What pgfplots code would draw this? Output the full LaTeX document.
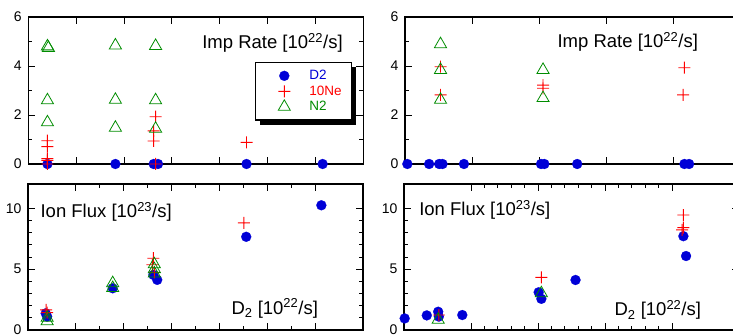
\documentclass[border=0pt]{standalone}
\usepackage{pgfplots}
\pgfplotsset{compat=1.18}
\usepackage{fontspec}
\setmainfont{Liberation Sans}
\usetikzlibrary{shadows}
\definecolor{dblue}{RGB}{0,0,215}
\definecolor{dred}{RGB}{255,0,0}
\definecolor{dgreen}{RGB}{0,140,0}
\pgfdeclareplotmark{fplus}{%
  \pgfpathrectangle{\pgfpoint{-\pgfplotmarksize}{-0.45pt}}{\pgfpoint{2\pgfplotmarksize}{0.9pt}}%
  \pgfpathrectangle{\pgfpoint{-0.45pt}{-\pgfplotmarksize}}{\pgfpoint{0.9pt}{2\pgfplotmarksize}}%
  \pgfusepathqfill}
\tikzset{lab/.style={inner sep=0pt, font=\fontsize{18.5}{20}\selectfont}}
\pgfplotsset{
  panel/.style={scale only axis, width=335pt, clip=false,
    axis line style={line width=1.3pt},
    tick style={black, line width=0.9pt},
    major tick length=7pt, minor tick length=4pt,
    xticklabel=\empty,
    /pgf/number format/assume math mode=true,
    yticklabel style={font=\fontsize{14}{16}\selectfont, xshift=-3pt},
  },
  legimg/.style={legend image code/.code={%
     \pgfpathrectangle{\pgfpoint{0pt}{-7.75pt}}{\pgfpoint{48pt}{15.5pt}}\pgfusepath{}%
     \draw[##1, only marks, mark repeat=2, mark phase=2] plot coordinates {(0pt,0pt) (25pt,0pt) (50pt,0pt)};}},
  d2/.style={only marks, mark=*, mark size=5pt, color=dblue,
    mark options={fill=dblue, draw=dblue, line width=0.2pt}, legimg},
  ne/.style={only marks, mark=fplus, mark size=6pt, color=dred,
    mark options={fill=dred, draw=none}, legimg},
  n2/.style={only marks, mark=triangle, mark size=7pt, color=dgreen,
    mark options={draw=dgreen, line width=0.8pt}, legimg},
}
\begin{document}
\begin{tikzpicture}
\useasboundingbox (0,0) rectangle (733pt,336pt);
\clip (0,0) rectangle (733pt,336pt);
% top-left
\begin{axis}[panel, height=147pt, at={(28.3pt,172pt)}, anchor=south west,
  xmin=0, xmax=7, xtick={1,...,6},
  ymin=0, ymax=6, ytick={0,2,4,6}, minor y tick num=1,
  legend style={at={(0.966,0.694)}, anchor=north east, draw=black, line width=1.2pt,
    fill=white, drop shadow={shadow xshift=4.5pt, shadow yshift=-4.5pt, fill=black, opacity=1},
    font=\fontsize{13.5}{15}\selectfont, inner xsep=4pt, inner ysep=5.5pt, row sep=0pt},
  legend cell align=left,
]
\addplot[d2] coordinates {(0.40,0) (1.82,0) (2.62,0) (2.71,0) (4.56,0) (6.15,0)};
\addlegendentry{\makebox[36pt][l]{\textcolor{dblue}{D2}}}
\addplot[ne] coordinates {(0.40,0.95) (0.40,0.71) (0.40,0.22) (0.40,0.15) (0.40,0) (2.66,1.93) (2.62,1.35) (2.62,0.94) (2.66,0) (4.56,0.88)};
\addlegendentry{\makebox[36pt][l]{\textcolor{dred}{10Ne}}}
\addplot[n2] coordinates {(0.40,4.80) (0.42,4.74) (0.40,2.60) (0.40,1.70) (1.82,4.84) (1.82,2.62) (1.82,1.48) (2.66,4.82) (2.66,2.60) (2.66,1.44)};
\addlegendentry{\makebox[36pt][l]{\textcolor{dgreen}{N2}}}
\node[lab, anchor=base east] at (rel axis cs:0.939,0.787) {Imp Rate [10\textsuperscript{22}/s]};
\end{axis}
% bottom-left
\begin{axis}[panel, height=146pt, at={(28pt,6pt)}, anchor=south west,
  xmin=0, xmax=7, xtick={1,...,6}, minor x tick num=1,
  ymin=0, ymax=12, ytick={0,5,10}, minor y tick num=4,
]
\addplot[d2] coordinates {(0.37,1.37) (0.40,1.10) (1.77,3.43) (2.62,4.53) (2.70,4.12) (4.56,7.66) (6.13,10.25)};
\addplot[ne] coordinates {(0.38,1.65) (0.40,1.43) (2.62,5.9) (2.60,5.36) (2.64,4.73) (4.51,8.8)};
\addplot[n2] coordinates {(0.40,1.0) (0.40,0.72) (1.77,3.85) (1.77,3.45) (2.64,5.4) (2.64,5.0) (2.64,4.65)};
\node[lab, anchor=base west] at (rel axis cs:0.037,0.769) {Ion Flux [10\textsuperscript{23}/s]};
\node[lab, anchor=base east] at (rel axis cs:0.866,0.108) {D\textsubscript{2} [10\textsuperscript{22}/s]};
\end{axis}
% top-right
\begin{axis}[panel, height=147pt, at={(405pt,172pt)}, anchor=south west,
  xmin=0, xmax=5, xtick={1,...,4},
  ymin=0, ymax=6, ytick={0,2,4,6}, minor y tick num=1,
]
\addplot[d2] coordinates {(0.035,0) (0.36,0) (0.51,0) (0.56,0) (0.88,0) (2.03,0) (2.08,0) (2.57,0) (4.17,0) (4.24,0)};
\addplot[ne] coordinates {(0.53,3.97) (0.53,2.82) (2.06,3.22) (2.06,3.09) (4.17,3.93) (4.15,2.82)};
\addplot[n2] coordinates {(0.53,4.89) (0.53,3.84) (0.53,2.62) (2.06,3.84) (2.06,2.69)};
\node[lab, anchor=base east] at (rel axis cs:0.875,0.794) {Imp Rate [10\textsuperscript{22}/s]};
\end{axis}
% bottom-right
\begin{axis}[panel, height=146pt, at={(404pt,6pt)}, anchor=south west,
  xmin=0, xmax=5, xtick={1,...,4}, minor x tick num=4,
  ymin=0, ymax=12, ytick={0,5,10}, minor y tick num=4,
]
\addplot[d2] coordinates {(0.01,0.95) (0.34,1.2) (0.51,1.5) (0.52,1.1) (0.87,1.23) (2.01,3.1) (2.05,2.56) (2.56,4.11) (4.17,7.71) (4.21,6.08)};
\addplot[ne] coordinates {(0.52,1.23) (2.05,4.33) (4.17,9.45) (4.17,8.42) (4.15,8.23)};
\addplot[n2] coordinates {(0.51,0.84) (2.05,3.02)};
\node[lab, anchor=base west] at (rel axis cs:0.045,0.781) {Ion Flux [10\textsuperscript{23}/s]};
\node[lab, anchor=base east] at (rel axis cs:0.887,0.096) {D\textsubscript{2} [10\textsuperscript{22}/s]};
\end{axis}
\end{tikzpicture}
\end{document}
